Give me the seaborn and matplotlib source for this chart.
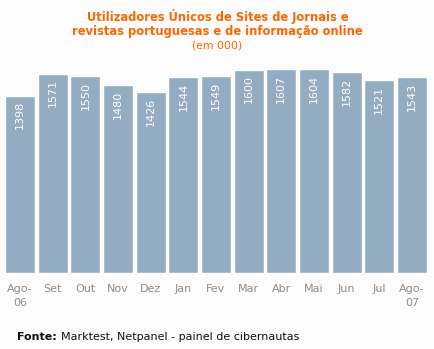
import matplotlib
matplotlib.use("Agg")
import matplotlib.pyplot as plt
import seaborn as sns
import pandas as pd

months = ["Ago-\n06", "Set", "Out", "Nov", "Dez", "Jan", "Fev", "Mar",
          "Abr", "Mai", "Jun", "Jul", "Ago-\n07"]
users = [1398, 1571, 1550, 1480, 1426, 1544, 1549, 1600, 1607, 1604,
         1582, 1521, 1543]

df = pd.DataFrame({"mes": months, "utilizadores": users})

sns.set_theme(style="white")
plt.rcParams["font.family"] = ["DejaVu Sans"]

bg = "#fcfcfc"
fig = plt.figure(figsize=(4.35, 3.49), dpi=100, facecolor=bg)
ax = fig.add_axes([5 / 435, 76 / 349, 422 / 435, 213 / 349], facecolor=bg)

sns.barplot(data=df, x="mes", y="utilizadores", color="#93acc2",
            saturation=1, width=0.92, ax=ax)

ax.set_xlim(-0.46, len(months) - 1 + 0.46)
ax.set_ylim(0, 1678)
for s in ax.spines.values():
    s.set_visible(False)
ax.set_yticks([])
ax.set_xlabel("")
ax.set_ylabel("")
ax.tick_params(axis="x", length=0, pad=8, labelsize=8, labelcolor="#8c8c8c")
for lbl in ax.get_xticklabels():
    lbl.set_linespacing(1.45)

for i, v in enumerate(users):
    ax.annotate(str(v), (i, v), xytext=(0, -4), textcoords="offset points",
                rotation=90, ha="center", va="top", color="white", fontsize=8)

orange = "#ff6600"
fig.text(0.5, 1 - 16 / 349, "Utilizadores Únicos de Sites de Jornais e",
         ha="center", va="center", color=orange, fontsize=8.3,
         fontweight="bold")
fig.text(0.5, 1 - 31 / 349, "revistas portuguesas e de informação online",
         ha="center", va="center", color=orange, fontsize=8.3,
         fontweight="bold")
fig.text(0.5, 1 - 45 / 349, "(em 000)", ha="center", va="center",
         color=orange, fontsize=7.8)

# source line: bold label followed by regular text
fy = 1 - 337 / 349
t = fig.text(17 / 435, fy, "Fonte:", ha="left", va="center",
             color="#111111", fontsize=8, fontweight="bold")
fig.canvas.draw()
bb = t.get_window_extent()
fig.text((bb.x1 + 4) / 435, fy, "Marktest, Netpanel - painel de cibernautas",
         ha="left", va="center", color="#111111", fontsize=8)

fig.savefig("out.png", dpi=100, facecolor=bg)
